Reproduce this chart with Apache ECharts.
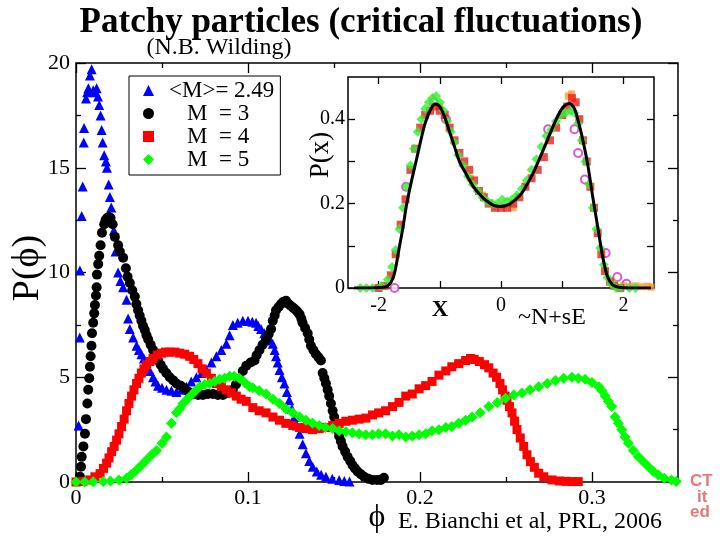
<!DOCTYPE html>
<html><head><meta charset="utf-8">
<script src="https://cdn.jsdelivr.net/npm/echarts@6/dist/echarts.min.js"></script>
<style>html,body{margin:0;padding:0;background:#fff}#c{width:720px;height:540px}</style>
</head><body><div id="c"></div>
<script>
// ---- tick values ----
const mainXMajor = [0, 0.1, 0.2, 0.3];
const mainXMinor = [0.05, 0.15, 0.25];
const mainYMajor = [0, 5, 10, 15, 20];
const mainYMinor = [2.5, 7.5, 12.5, 17.5];
const insetXTicks = [-2, -1, 0, 1, 2];
const insetXLabels = [-2, 0, 2];
const insetYTicks = [0, 0.1, 0.2, 0.3, 0.4];
const insetYLabels = [0, 0.2, 0.4];
const legendNames = ['<M>= 2.49', 'M  = 3', 'M  = 4', 'M  = 5'];

// ---- main series [phi, P(phi)] ----
const seriesM249 = [
[0.0005,0.1],[0.0015,2.7],[0.0022,6.9],[0.0023,10.1],[0.0033,12.7],[0.0039,14.1],[0.0045,16.2],[0.0047,16.9],
[0.0058,18.3],[0.0065,18.6],[0.0072,18.8],[0.0081,19.4],[0.0091,19.7],[0.0100,18.7],[0.0110,18.6],[0.0120,18.8],
[0.0128,18.4],[0.0135,18.0],[0.0143,17.5],[0.0149,16.8],[0.0155,16.2],[0.0164,15.6],[0.0174,15.3],[0.0180,15.0],
[0.0190,14.2],[0.0197,13.6],[0.0205,13.1],[0.0213,12.5],[0.0220,12.0],[0.0230,11.0],[0.0245,10.0],[0.0258,9.6],
[0.0274,9.3],[0.0294,8.7],[0.0303,7.8],[0.0313,7.3],[0.0332,6.9],[0.0352,6.5],[0.0366,6.3],[0.0380,6.1],
[0.0395,5.9],[0.0410,5.7],[0.0430,5.3],[0.0448,5.0],[0.0462,4.8],[0.0477,4.6],[0.0500,4.5],[0.0526,4.4],
[0.0555,4.35],[0.0584,4.3],[0.0613,4.4],[0.0642,4.55],[0.0670,4.8],[0.0700,5.0],[0.0730,5.2],[0.0758,5.35],
[0.0787,5.7],[0.0816,6.0],[0.0845,6.3],[0.0874,6.6],[0.0893,7.0],[0.0912,7.5],[0.0940,7.6],[0.0970,7.7],
[0.1000,7.7],[0.1025,7.65],[0.1047,7.6],[0.1060,7.45],[0.1076,7.3],[0.1095,7.1],[0.1115,6.9],[0.1130,6.75],
[0.1144,6.6],[0.1155,6.3],[0.1163,6.0],[0.1173,5.7],[0.1183,5.35],[0.1197,5.0],[0.1212,4.7],[0.1226,4.3],
[0.1240,3.9],[0.1255,3.5],[0.1270,3.1],[0.1285,2.7],[0.1300,2.3],[0.1318,1.8],[0.1337,1.37],[0.1356,1.0],
[0.1376,0.73],[0.1400,0.5],[0.1425,0.35],[0.1453,0.25],[0.1490,0.15],[0.1530,0.1],[0.1560,0.05],[0.1590,0.02]
];
const seriesM3 = [
[0.0015,0.05],[0.0023,0.25],[0.0029,0.73],[0.0033,1.2],[0.0043,1.7],[0.0052,2.3],[0.0058,3.0],[0.0066,3.75],
[0.0071,4.4],[0.0077,4.95],[0.0081,5.5],[0.0085,6.0],[0.0090,6.5],[0.0093,7.1],[0.0100,7.6],[0.0106,8.05],
[0.0110,8.45],[0.0116,8.9],[0.0120,9.3],[0.0122,9.9],[0.0129,10.4],[0.0135,10.8],[0.0143,11.3],[0.0151,11.9],
[0.0164,12.3],[0.0172,12.5],[0.0181,12.6],[0.0191,12.65],[0.0201,12.6],[0.0213,12.3],[0.0226,11.7],[0.0245,11.3],
[0.0255,11.0],[0.0274,10.7],[0.0290,10.2],[0.0300,9.8],[0.0313,9.5],[0.0327,9.15],[0.0342,8.85],[0.0351,8.5],
[0.0361,8.2],[0.0370,7.95],[0.0380,7.7],[0.0390,7.45],[0.0400,7.25],[0.0410,7.0],[0.0420,6.8],[0.0434,6.55],
[0.0448,6.3],[0.0462,6.05],[0.0477,5.8],[0.0492,5.6],[0.0506,5.4],[0.0525,5.2],[0.0545,5.0],[0.0565,4.85],
[0.0584,4.7],[0.0608,4.6],[0.0632,4.47],[0.0656,4.3],[0.0680,4.2],[0.0710,4.15],[0.0738,4.15],[0.0767,4.2],
[0.0796,4.2],[0.0825,4.15],[0.0854,4.15],[0.0883,4.25],[0.0912,4.4],[0.0930,4.65],[0.0950,4.9],[0.0970,5.3],
[0.0990,5.55],[0.1015,5.7],[0.1038,5.8],[0.1050,6.05],[0.1067,6.3],[0.1085,6.55],[0.1105,6.8],[0.1120,7.05],
[0.1134,7.3],[0.1144,7.7],[0.1155,7.95],[0.1163,8.2],[0.1178,8.35],[0.1192,8.5],[0.1206,8.6],[0.1221,8.65],
[0.1236,8.5],[0.1250,8.4],[0.1265,8.3],[0.1280,8.2],[0.1290,8.1],[0.1300,8.0],[0.1310,7.8],[0.1317,7.6],
[0.1332,7.35],[0.1347,7.1],[0.1356,6.8],[0.1366,6.5],[0.1380,6.3],[0.1395,6.1],[0.1410,5.95],[0.1424,5.8],
[0.1434,5.2],[0.1444,4.95],[0.1453,4.7],[0.1463,4.4],[0.1472,4.1],[0.1482,3.75],[0.1492,3.4],[0.1501,3.1],
[0.1511,2.8],[0.1520,2.5],[0.1530,2.2],[0.1540,1.95],[0.1550,1.7],[0.1565,1.45],[0.1579,1.2],[0.1594,1.0],
[0.1608,0.8],[0.1622,0.65],[0.1637,0.5],[0.1656,0.37],[0.1675,0.25],[0.1700,0.15],[0.1724,0.1],[0.1750,0.1],
[0.1772,0.1],[0.1790,0.2]
];
const seriesM4 = [
[0.000,0.0],[0.004,0.02],[0.008,0.1],[0.011,0.25],[0.014,0.4],[0.016,0.65],[0.0178,0.9],[0.0192,1.15],
[0.0207,1.45],[0.0222,1.7],[0.0236,2.0],[0.025,2.3],[0.0265,2.65],[0.028,3.0],[0.0294,3.4],[0.0308,3.75],
[0.0323,4.1],[0.0337,4.4],[0.0352,4.7],[0.0366,4.95],[0.038,5.2],[0.0395,5.4],[0.041,5.6],[0.043,5.75],
[0.0448,5.9],[0.0472,6.05],[0.0497,6.15],[0.052,6.2],[0.0545,6.2],[0.0575,6.2],[0.0603,6.15],[0.0632,6.1],
[0.0661,6.0],[0.0685,5.85],[0.0709,5.65],[0.0733,5.4],[0.0758,5.2],[0.0787,4.95],[0.0816,4.7],[0.0845,4.55],
[0.0874,4.4],[0.0903,4.25],[0.0932,4.1],[0.096,3.95],[0.099,3.85],[0.1028,3.55],[0.1065,3.4],[0.1105,3.3],
[0.1145,3.1],[0.1183,2.95],[0.122,2.8],[0.126,2.7],[0.13,2.6],[0.1337,2.55],[0.1375,2.5],[0.1414,2.55],
[0.145,2.6],[0.1492,2.7],[0.153,2.8],[0.1569,2.9],[0.1607,2.95],[0.1646,3.0],[0.1685,3.05],[0.1724,3.2],
[0.176,3.3],[0.18,3.4],[0.184,3.6],[0.1878,3.8],[0.1917,4.1],[0.1955,4.2],[0.1995,4.45],[0.2033,4.6],
[0.207,4.8],[0.211,5.1],[0.215,5.3],[0.2185,5.5],[0.2225,5.65],[0.2265,5.8],[0.2294,5.9],[0.2315,5.85],
[0.2345,5.75],[0.2375,5.6],[0.240,5.45],[0.2425,5.2],[0.2445,5.0],[0.2465,4.7],[0.2480,4.4],[0.2495,4.1],
[0.2506,3.9],[0.252,3.6],[0.2535,3.3],[0.255,2.9],[0.2564,2.5],[0.2583,2.1],[0.2603,1.7],[0.2622,1.3],
[0.2642,0.97],[0.2665,0.7],[0.269,0.42],[0.272,0.25],[0.2767,0.1],[0.281,0.05],[0.285,0.03],[0.2883,0.02],[0.292,0.02]
];
const seriesM5 = [
[0.000,0.0],[0.005,0.0],[0.010,0.01],[0.0158,0.02],[0.020,0.05],[0.025,0.1],[0.0294,0.18],[0.032,0.35],
[0.0352,0.57],[0.038,0.8],[0.041,1.05],[0.044,1.3],[0.0468,1.5],[0.050,1.85],[0.0526,2.15],[0.0555,2.8],
[0.0584,3.3],[0.0603,3.5],[0.0622,3.75],[0.0646,3.95],[0.0671,4.15],[0.0695,4.35],[0.0719,4.55],[0.0748,4.65],
[0.0777,4.7],[0.0806,4.8],[0.0835,4.9],[0.0864,4.95],[0.0893,5.05],[0.092,5.05],[0.095,4.95],[0.098,4.75],
[0.1009,4.55],[0.1028,4.5],[0.1065,4.35],[0.1105,4.2],[0.1145,3.95],[0.1183,3.75],[0.122,3.5],[0.126,3.3],
[0.13,3.1],[0.1337,2.95],[0.1375,2.8],[0.1414,2.7],[0.145,2.6],[0.1492,2.55],[0.153,2.45],[0.1569,2.4],
[0.1607,2.35],[0.1646,2.3],[0.1685,2.25],[0.1724,2.25],[0.176,2.3],[0.18,2.3],[0.184,2.2],[0.1878,2.25],
[0.1917,2.15],[0.1955,2.2],[0.1995,2.25],[0.2033,2.3],[0.207,2.45],[0.211,2.5],[0.215,2.6],[0.2185,2.65],
[0.2225,2.8],[0.2265,2.95],[0.2303,3.1],[0.235,3.3],[0.24,3.6],[0.245,3.8],[0.2497,4.0],[0.2545,4.15],
[0.2593,4.25],[0.264,4.4],[0.269,4.55],[0.274,4.7],[0.2787,4.85],[0.2835,4.95],[0.2883,5.0],[0.292,4.95],
[0.296,4.9],[0.300,4.75],[0.304,4.55],[0.3058,4.35],[0.3076,4.1],[0.3095,3.85],[0.3115,3.6],[0.3134,3.1],
[0.3153,2.8],[0.3173,2.5],[0.3192,2.15],[0.3212,1.85],[0.324,1.5],[0.327,1.2],[0.330,0.95],[0.3328,0.73],
[0.3357,0.5],[0.3386,0.33],[0.342,0.18],[0.3462,0.1],[0.349,0.02]
];

// ---- inset series [x, P(x)] ----
const insetFit = [
[-2.4,0],[-2.2,0],[-2.0,0.001],[-1.85,0.005],[-1.75,0.03],[-1.67,0.09],[-1.6,0.145],[-1.54,0.2],[-1.46,0.255],
[-1.38,0.305],[-1.31,0.35],[-1.24,0.39],[-1.16,0.42],[-1.08,0.436],[-1.0,0.43],[-0.92,0.405],[-0.84,0.37],
[-0.76,0.335],[-0.68,0.3],[-0.57,0.27],[-0.46,0.242],[-0.35,0.222],[-0.25,0.208],[-0.12,0.196],[0.0,0.193],
[0.13,0.198],[0.24,0.21],[0.34,0.225],[0.42,0.244],[0.5,0.265],[0.58,0.29],[0.67,0.32],[0.75,0.348],
[0.83,0.376],[0.91,0.402],[0.99,0.424],[1.06,0.434],[1.12,0.437],[1.2,0.425],[1.29,0.38],[1.36,0.335],
[1.42,0.29],[1.5,0.215],[1.58,0.145],[1.66,0.075],[1.74,0.027],[1.82,0.008],[1.92,0.002],[2.1,0],[2.3,0],[2.45,0]
];
const insetGreen = [
[-2.3,0.0],[-2.2,0.0],[-2.1,0.0],[-1.95,0.005],[-1.85,0.02],[-1.78,0.05],[-1.72,0.09],[-1.66,0.14],[-1.6,0.19],
[-1.54,0.24],[-1.48,0.29],[-1.42,0.33],[-1.36,0.37],[-1.3,0.4],[-1.24,0.425],[-1.18,0.44],[-1.12,0.45],
[-1.06,0.455],[-1.0,0.44],[-0.94,0.42],[-0.88,0.395],[-0.82,0.37],[-0.76,0.345],[-0.7,0.315],[-0.62,0.29],
[-0.54,0.265],[-0.46,0.245],[-0.38,0.23],[-0.3,0.215],[-0.22,0.205],[-0.14,0.2],[-0.06,0.2],[0.02,0.21],
[0.1,0.205],[0.18,0.21],[0.26,0.22],[0.34,0.235],[0.42,0.255],[0.5,0.28],[0.58,0.305],[0.66,0.335],
[0.74,0.36],[0.82,0.375],[0.9,0.395],[0.98,0.41],[1.06,0.415],[1.14,0.42],[1.2,0.415],[1.26,0.39],
[1.32,0.35],[1.38,0.3],[1.44,0.245],[1.5,0.19],[1.56,0.14],[1.62,0.095],[1.68,0.055],[1.74,0.025],
[1.8,0.01],[1.88,0.0],[1.96,0.0],[2.1,0.0],[2.2,0.0]
];
const insetRed = [
[-2.0,0.0],[-1.9,0.005],[-1.8,0.03],[-1.72,0.08],[-1.64,0.15],[-1.56,0.21],[-1.48,0.28],[-1.4,0.33],
[-1.32,0.38],[-1.24,0.41],[-1.16,0.42],[-1.08,0.43],[-1.0,0.42],[-0.92,0.41],[-0.84,0.38],[-0.76,0.35],
[-0.68,0.32],[-0.6,0.3],[-0.52,0.28],[-0.44,0.255],[-0.36,0.23],[-0.28,0.215],[-0.2,0.2],[-0.1,0.19],
[0.0,0.19],[0.1,0.19],[0.2,0.2],[0.3,0.215],[0.4,0.24],[0.5,0.26],[0.6,0.28],[0.7,0.31],[0.8,0.35],
[0.9,0.38],[1.0,0.41],[1.08,0.43],[1.16,0.45],[1.22,0.44],[1.28,0.4],[1.34,0.35],[1.4,0.3],[1.46,0.24],
[1.52,0.19],[1.58,0.13],[1.64,0.08],[1.7,0.04],[1.78,0.015],[1.85,0.005],[1.95,0.0]
];
const insetOrange = [
[-1.0,0.43],[-0.5,0.26],[-0.3,0.22],[0.2,0.19],[1.1,0.455],[1.15,0.46],[1.85,0.01],[2.0,0.005],
[2.1,0.003],[2.2,0.005],[2.3,0.003],[2.4,0.004],[2.45,0.002]
];
const insetMagenta = [
[-1.74,0.0],[-1.55,0.24],[-1.1,0.44],[-0.9,0.4],[0.77,0.376],[1.2,0.376],[1.26,0.32],[1.37,0.257],
[1.71,0.083],[1.9,0.026],[2.05,0.01]
];

const SERIF = 'Liberation Serif';
const chart = echarts.init(document.getElementById('c'), null, {renderer: 'canvas'});

function axis(gridIndex, position, min, max, tickVals, tickLen, labelVals, labelMargin, labelSize) {
  const a = {
    type: 'value', gridIndex: gridIndex, position: position, min: min, max: max,
    axisLine: {show: false, onZero: false},
    splitLine: {show: false},
    axisTick: {show: true, inside: true, length: tickLen, customValues: tickVals,
               lineStyle: {color: '#000', width: 1.3}},
    axisLabel: {show: false}
  };
  if (labelVals) {
    a.axisLabel = {show: true, customValues: labelVals, margin: labelMargin,
                   fontFamily: SERIF, fontSize: labelSize, color: '#000'};
  }
  return a;
}

function txt(x, y, text, size, opts) {
  const o = opts || {};
  return {
    type: 'text', x: x, y: y, rotation: o.rotation || 0, z: 100,
    style: {
      text: text, fill: o.fill || '#000',
      font: (o.bold ? 'bold ' : '') + size + 'px "' + (o.family || SERIF) + '"',
      align: o.align || 'center', verticalAlign: 'middle'
    }
  };
}

const option = {
  backgroundColor: '#fff',
  animation: false,
  grid: [
    {left: 76, right: 42, top: 63, bottom: 58, show: true, borderColor: '#000', borderWidth: 1.5, backgroundColor: 'transparent'},
    {left: 348, right: 66, top: 77, bottom: 252, show: true, borderColor: '#000', borderWidth: 1.5, backgroundColor: '#fff'}
  ],
  xAxis: [
    axis(0, 'bottom', 0, 0.35, mainXMajor, 10, mainXMajor, 5, 22),
    axis(0, 'bottom', 0, 0.35, mainXMinor, 5, null),
    axis(0, 'top', 0, 0.35, mainXMajor, 10, null),
    axis(0, 'top', 0, 0.35, mainXMinor, 5, null),
    axis(1, 'bottom', -2.5, 2.5, insetXTicks, 7, insetXLabels, 8, 20),
    axis(1, 'top', -2.5, 2.5, insetXTicks, 7, null)
  ],
  yAxis: [
    axis(0, 'left', 0, 20, mainYMajor, 10, mainYMajor, 6, 22),
    axis(0, 'left', 0, 20, mainYMinor, 5, null),
    axis(0, 'right', 0, 20, mainYMajor, 10, null),
    axis(0, 'right', 0, 20, mainYMinor, 5, null),
    axis(1, 'left', 0, 0.5, insetYTicks, 7, insetYLabels, 3, 20),
    axis(1, 'right', 0, 0.5, insetYTicks, 7, null)
  ],
  legend: {
    data: legendNames,
    orient: 'vertical', left: 129, top: 76,
    backgroundColor: '#fff', borderColor: '#000', borderWidth: 1, borderRadius: 0,
    padding: [3, 6, 4, 14], itemGap: 0, itemWidth: 11, itemHeight: 11,
    selectedMode: false,
    formatter: function (n) { return n.charAt(0) === '<' ? '{a|' + n + '}' : '{b|' + n + '}'; },
    textStyle: {
      fontFamily: SERIF, fontSize: 23, color: '#000', lineHeight: 22,
      rich: {
        a: {fontFamily: SERIF, fontSize: 23, color: '#000', lineHeight: 22, padding: [0, 0, 0, 10]},
        b: {fontFamily: SERIF, fontSize: 23, color: '#000', lineHeight: 22, padding: [0, 0, 0, 28]}
      }
    }
  },
  series: [
    {name: legendNames[0], type: 'scatter', xAxisIndex: 0, yAxisIndex: 0, data: seriesM249,
     symbol: 'triangle', symbolSize: 10, itemStyle: {color: '#0000ff', opacity: 1}},
    {name: legendNames[1], type: 'scatter', xAxisIndex: 0, yAxisIndex: 0, data: seriesM3,
     symbol: 'circle', symbolSize: 10, itemStyle: {color: '#000000', opacity: 1}},
    {name: legendNames[2], type: 'scatter', xAxisIndex: 0, yAxisIndex: 0, data: seriesM4,
     symbol: 'rect', symbolSize: 9, itemStyle: {color: '#ff0000', opacity: 1}},
    {name: legendNames[3], type: 'scatter', xAxisIndex: 0, yAxisIndex: 0, data: seriesM5,
     symbol: 'diamond', symbolSize: 11, itemStyle: {color: '#00ff00', opacity: 1}},
    {name: 'inset magenta', type: 'scatter', xAxisIndex: 4, yAxisIndex: 4, data: insetMagenta,
     symbol: 'emptyCircle', symbolSize: 8, itemStyle: {color: '#cc33cc', borderColor: '#cc33cc', borderWidth: 1}},
    {name: 'inset orange', type: 'scatter', xAxisIndex: 4, yAxisIndex: 4, data: insetOrange,
     symbol: 'rect', symbolSize: 7, itemStyle: {color: '#ff9933'}},
    {name: 'inset red', type: 'scatter', xAxisIndex: 4, yAxisIndex: 4, data: insetRed,
     symbol: 'rect', symbolSize: 8, itemStyle: {color: '#e8201a'}},
    {name: 'inset green', type: 'scatter', xAxisIndex: 4, yAxisIndex: 4, data: insetGreen,
     symbol: 'diamond', symbolSize: 10, itemStyle: {color: '#33ee33'}},
    {name: 'inset fit', type: 'line', xAxisIndex: 4, yAxisIndex: 4, data: insetFit,
     smooth: 0.3, showSymbol: false, lineStyle: {color: '#000', width: 3}, z: 5}
  ],
  graphic: [
    txt(361, 23, 'Patchy particles (critical fluctuations)', 35, {bold: true}),
    txt(219, 48, '(N.B. Wilding)', 24),
    txt(28, 268, 'P(ϕ)', 38, {rotation: Math.PI / 2}),
    txt(377, 518, 'ϕ', 32),
    txt(398, 522, 'E. Bianchi et al, PRL, 2006', 24, {align: 'left'}),
    txt(321, 155, 'P(x)', 27, {rotation: Math.PI / 2}),
    txt(440, 310, 'X', 23, {bold: true}),
    txt(518, 318, '~N+sE', 24, {align: 'left'}),
    txt(690, 481, 'CT', 17, {bold: true, align: 'left', family: 'Liberation Sans', fill: '#e87878'}),
    txt(697, 497, 'it', 17, {bold: true, align: 'left', family: 'Liberation Sans', fill: '#e87878'}),
    txt(690, 512, 'ed', 17, {bold: true, align: 'left', family: 'Liberation Sans', fill: '#e87878'})
  ]
};
chart.setOption(option);
</script>
</body></html>
